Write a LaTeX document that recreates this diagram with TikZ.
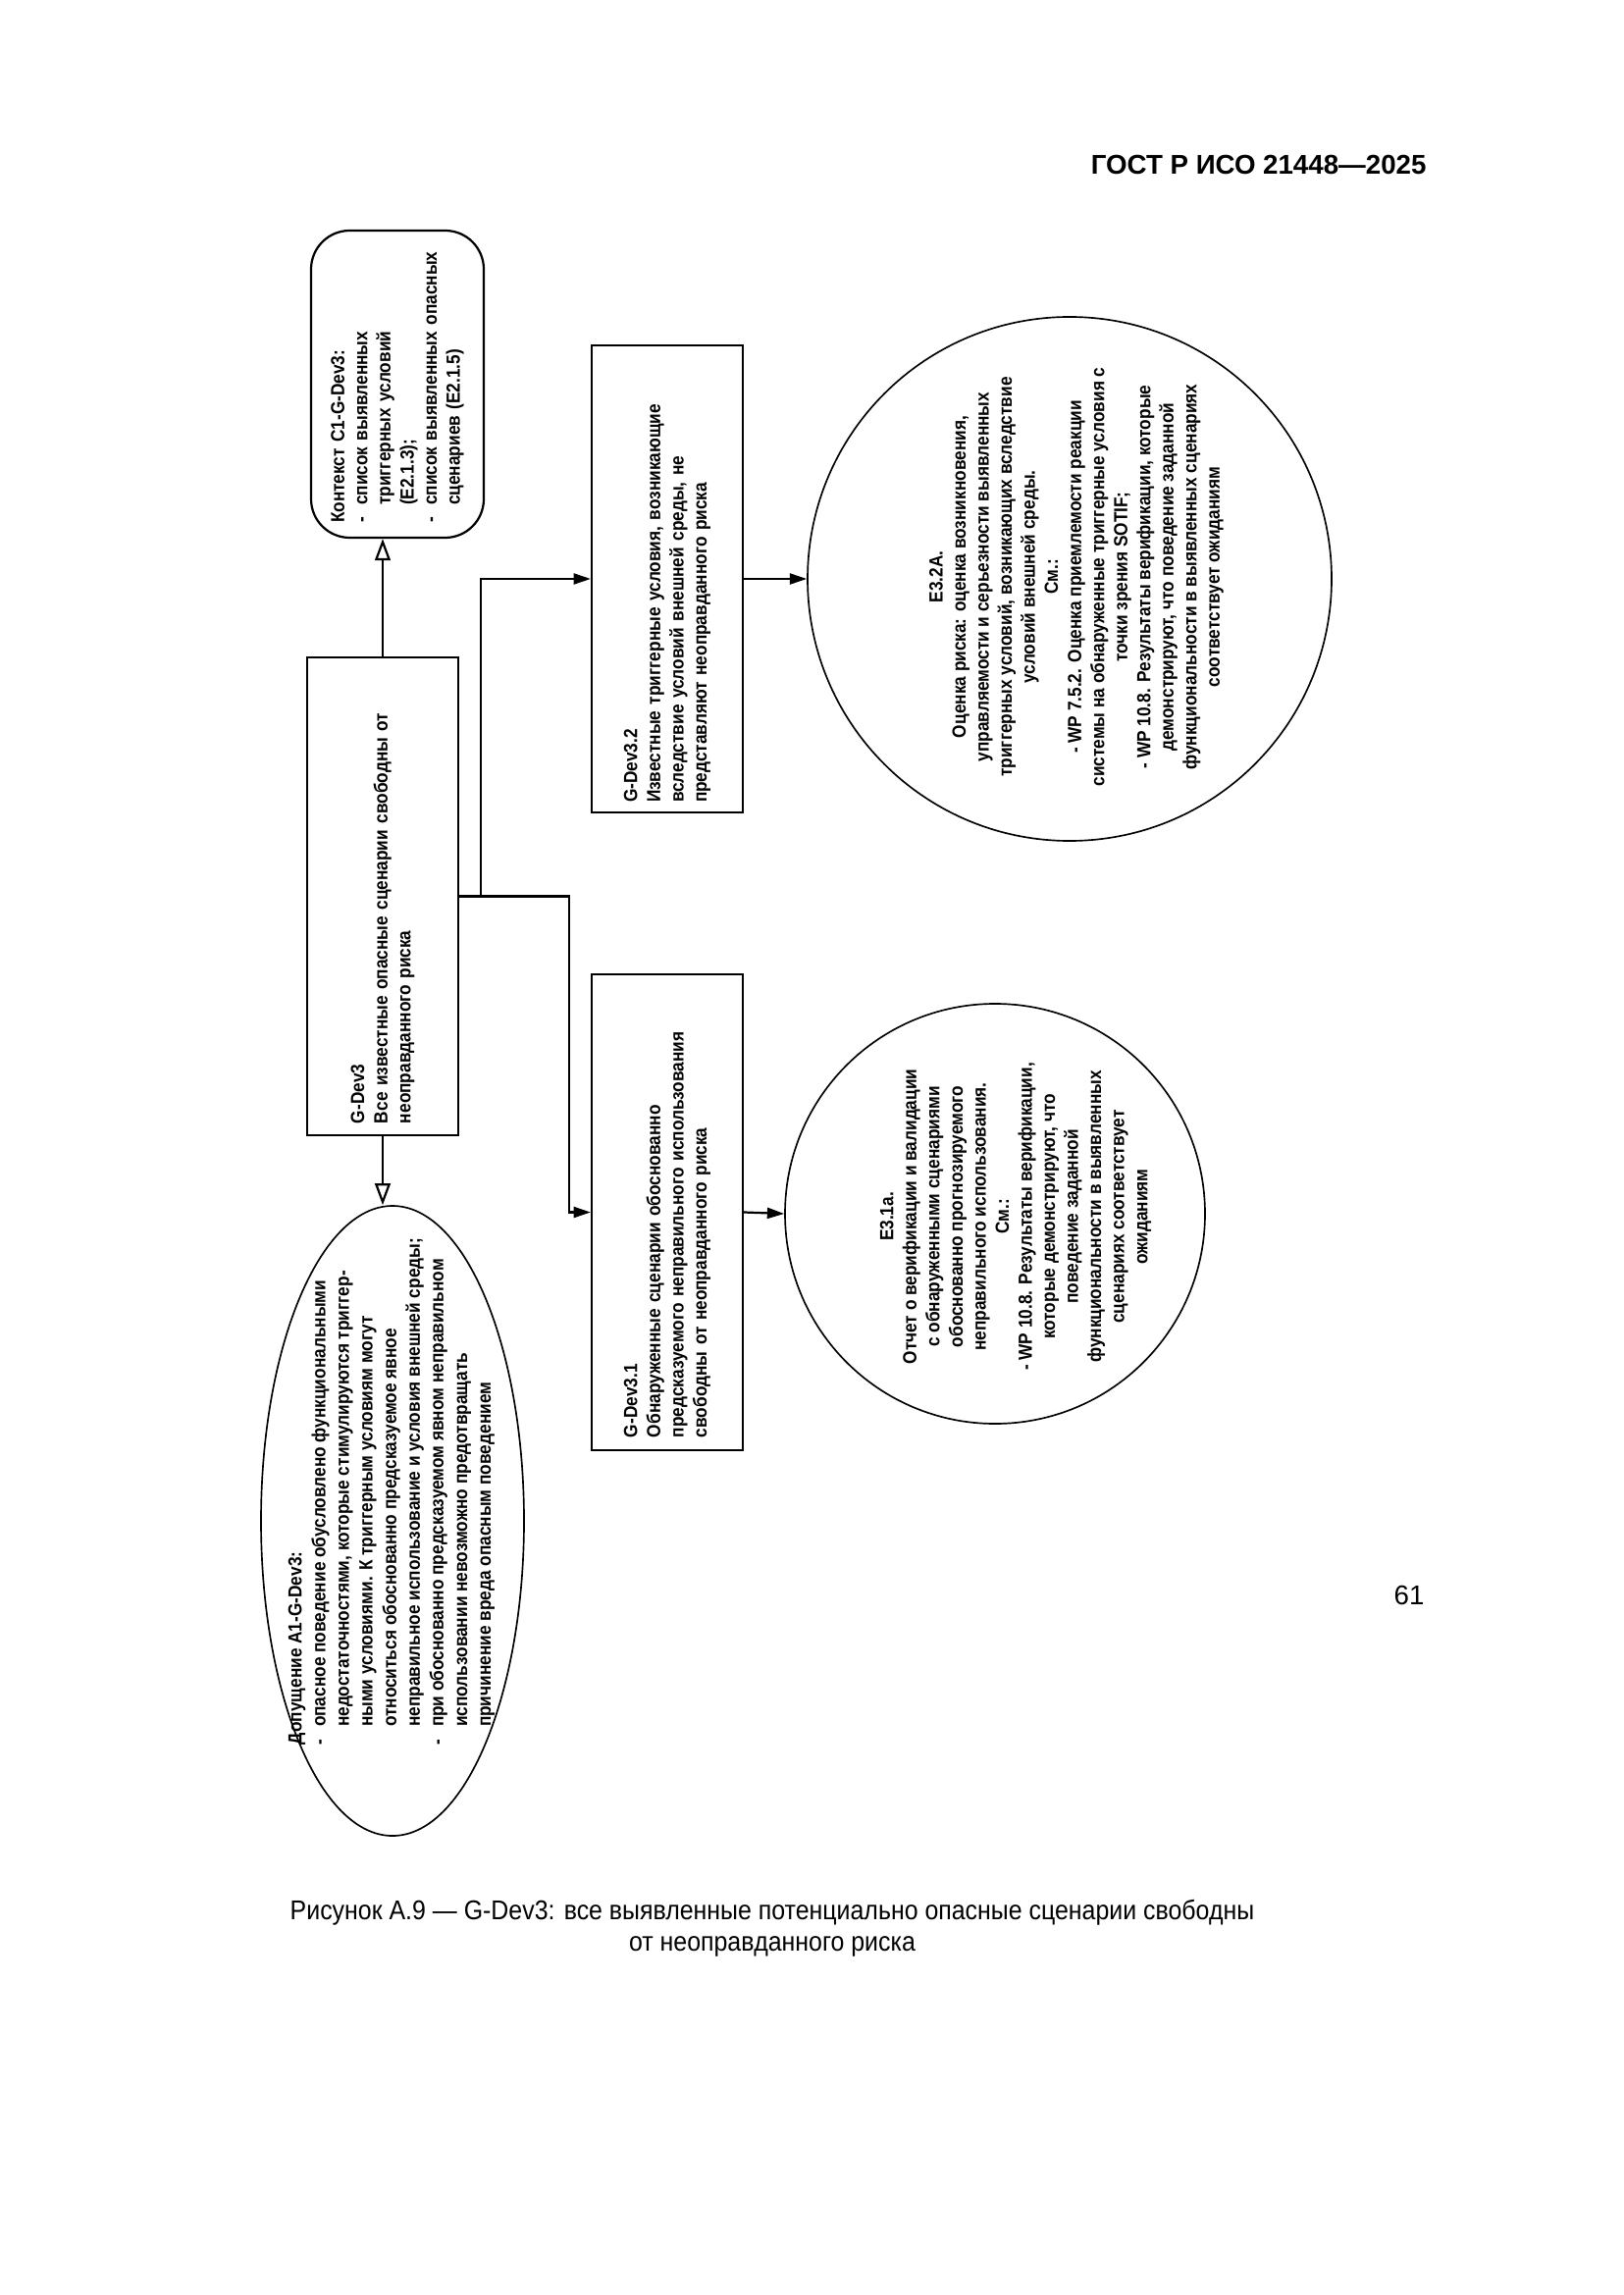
\documentclass[tikz,border=0pt]{standalone}
\usepackage{fontspec}
\setmainfont{Liberation Sans}
\newfontfamily\nar[FakeStretch=0.89]{Liberation Sans}
\newfontfamily\capfont[FakeStretch=0.9]{Liberation Sans}
\usetikzlibrary{arrows.meta,calc,shapes.geometric}
\newdimen\PX \PX=0.12696mm
\newcommand{\itm}{\makebox[2.3mm][l]{-}}
\newcommand{\ind}{\hspace*{2.3mm}}
\begin{document}
\begin{tikzpicture}[x=0.12696mm, y=-0.12696mm,
  dfont/.style={font=\nar\bfseries\fontsize{7}{8.5}\selectfont},
  gbox/.style={dfont, draw, line width=0.8pt, rectangle, rotate=90, align=left, inner ysep=0pt},
  circ/.style={draw, line width=0.6pt, circle, inner sep=0pt},
  ctext/.style={dfont, rotate=90, align=center, inner sep=0pt},
  conn/.style={line width=0.8pt},
  filled/.style={conn, -{Triangle[length=2.2mm, width=1.4mm]}},
  hollow/.style={conn, -{Triangle[open, length=2.8mm, width=2mm, line width=0.8pt]}}
]
\useasboundingbox (0,0) rectangle (1654,2339);

% header, caption, page number
\node[anchor=east, inner sep=0pt, font=\bfseries\fontsize{10}{12}\selectfont] (hdr) at (1454,168) {ГОСТ Р ИСО 21448—2025};
\node[align=center, inner sep=0pt, font=\capfont\fontsize{10}{11.6}\selectfont] (cap) at (787,1965) {Рисунок А.9 — G-Dev3: все выявленные потенциально опасные сценарии свободны\\от неоправданного риска};
\node[anchor=east, inner sep=0pt, font=\fontsize{10}{12}\selectfont] (pg) at (1452,1626) {61};

% context
\node[gbox, rounded corners=5mm, minimum width=313\PX, minimum height=176\PX, text width=283\PX, inner xsep=15\PX] (ctx) at (405,391.5)
 {Контекст С1-G-Dev3:\\
  \itm список выявленных\\
  \ind триггерных условий\\
  \ind (Е2.1.3);\\
  \itm список выявленных опасных\\
  \ind сценариев (Е2.1.5)};

% G-Dev3
\node[gbox, minimum width=487\PX, minimum height=154\PX, text width=463\PX, inner xsep=12\PX] (g3) at (390,913.5)
 {G-Dev3\\Все известные опасные сценарии свободны от\\неоправданного риска};

% G-Dev3.2
\node[gbox, minimum width=476\PX, minimum height=154\PX, text width=456\PX, inner xsep=10\PX] (g32) at (680,590)
 {G-Dev3.2\\Известные триггерные условия, возникающие\\вследствие условий внешней среды, не\\представляют неоправданного риска};

% G-Dev3.1
\node[gbox, minimum width=485\PX, minimum height=154\PX, text width=459\PX, inner xsep=13\PX] (g31) at (680,1235.5)
 {G-Dev3.1\\Обнаруженные сценарии обоснованно\\предсказуемого неправильного использования\\свободны от неоправданного риска};

% E3.2A
\node[circ, minimum size=534\PX] (e32) at (1090,590) {};
\node[ctext] (e32t) at (1097,588)
 {E3.2A.\\
  Оценка риска: оценка возникновения,\\
  управляемости и серьезности выявленных\\
  триггерных условий, возникающих вследствие\\
  условий внешней среды.\\
  См.:\\
  - WP 7.5.2. Оценка приемлемости реакции\\
  системы на обнаруженные триггерные условия с\\
  точки зрения SOTIF;\\
  - WP 10.8. Результаты верификации, которые\\
  демонстрируют, что поведение заданной\\
  функциональности в выявленных сценариях\\
  соответствует ожиданиям};

% E3.1a
\node[circ, minimum size=428\PX] (e31) at (1014,1237) {};
\node[ctext] (e31t) at (1035,1240)
 {E3.1a.\\
  Отчет о верификации и валидации\\
  с обнаруженными сценариями\\
  обоснованно прогнозируемого\\
  неправильного использования.\\
  См.:\\
  - WP 10.8. Результаты верификации,\\
  которые демонстрируют, что\\
  поведение заданной\\
  функциональности в выявленных\\
  сценариях соответствует\\
  ожиданиям};

% Assumption
\node[draw, line width=0.6pt, ellipse, inner sep=0pt, minimum width=268\PX, minimum height=642\PX] (a1) at (400,1550) {};
\node[rotate=90, align=left, inner sep=0pt, font=\nar\bfseries\fontsize{7}{8.7}\selectfont] (a1t) at (399,1520)
 {Допущение А1-G-Dev3:\\
  \itm опасное поведение обусловлено функциональными\\
  \ind недостаточностями, которые стимулируются триггер-\\
  \ind ными условиями. К триггерным условиям могут\\
  \ind относиться обоснованно предсказуемое явное\\
  \ind неправильное использование и условия внешней среды;\\
  \itm при обоснованно предсказуемом явном неправильном\\
  \ind использовании невозможно предотвращать\\
  \ind причинение вреда опасным поведением};

% connectors
\draw[hollow] (g3.east) -- (g3.east |- ctx.west);
\draw[hollow] (g3.west) -- (g3.west |- a1.north);
\coordinate (J) at ($(g3.south)+(22,0)$);
\coordinate (K) at ($(g3.south)+(112,0)$);
\draw[conn] (g3.south) -- (J);
\draw[filled] (J) |- (g32.north);
\draw[filled] (J) -- (K) |- (g31.north);
\draw[filled] (g32.south) -- (e32.west);
\draw[filled] (g31.south) -- (e31.west);
\end{tikzpicture}
\end{document}
